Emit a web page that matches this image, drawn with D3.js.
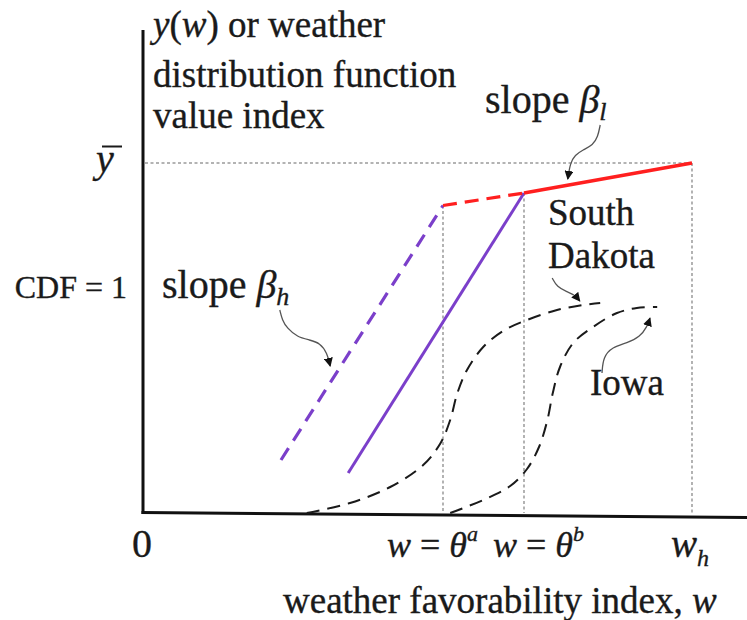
<!DOCTYPE html>
<html>
<head>
<meta charset="utf-8">
<script src="https://cdn.jsdelivr.net/npm/d3@7"></script>
<style>
  html, body { margin: 0; padding: 0; background: #ffffff; }
  svg text { font-family: "Liberation Serif", "Times New Roman", serif; fill: #1a1a1a;
             stroke: #1a1a1a; stroke-width: 0.35; }
</style>
</head>
<body>
<svg id="sketchbook" width="747" height="620"></svg>
<script>
// key points on the w axis / y axis (index units 0..100)
let thetaA = 50;
let thetaB = 63.5;
let wH     = 91.5;
let yBar   = 70;

// value function pieces
let redSolid     = [ { w: thetaB, y: 64 },   { w: wH, y: yBar } ];
let redDashed    = [ { w: thetaA, y: 61.5 }, { w: thetaB, y: 64 } ];
let purpleSolid  = [ { w: 34.2, y: 8 },      { w: thetaB, y: 64 } ];
let purpleDashed = [ { w: 23, y: 10.6 },     { w: thetaA, y: 61.5 } ];

// weather CDFs (CDF = 1 sits at y ~ 43)
let southDakota = [
    { w: 27.3, y: 0 }, { w: 34.5, y: 2 }, { w: 41.2, y: 5.2 }, { w: 46.7, y: 9.6 },
    { w: 49.6, y: 14 }, { w: 51.2, y: 18.6 }, { w: 52.4, y: 24 }, { w: 54, y: 28.6 },
    { w: 56.7, y: 33.2 }, { w: 60, y: 36.4 }, { w: 64, y: 38.6 }, { w: 69, y: 40.6 },
    { w: 73.3, y: 41.6 }, { w: 76.2, y: 42 }
];
let iowa = [
    { w: 51.2, y: 0 }, { w: 56.7, y: 2.6 }, { w: 61.2, y: 5.4 }, { w: 64, y: 8.8 },
    { w: 66, y: 13.2 }, { w: 67.4, y: 18.6 }, { w: 68.3, y: 24 }, { w: 69.5, y: 29.2 },
    { w: 71.7, y: 34 }, { w: 75, y: 37.2 }, { w: 79, y: 40 }, { w: 82.3, y: 41 },
    { w: 85.7, y: 41.2 }
];

// vertical guides drop from the kinks to the axis
let guides = [ { w: thetaA, y: 61.5 }, { w: thetaB, y: 64 }, { w: wH, y: yBar } ];

// curly pointers for the labels
let pointers = [
    [ { w: 76.2, y: 77.6 }, { w: 75.8, y: 75.2 }, { w: 75, y: 73.6 }, { w: 73.3, y: 72.6 },
      { w: 72, y: 71.6 }, { w: 71.2, y: 70 }, { w: 70.8, y: 66.8 } ],
    [ { w: 22.8, y: 40.6 }, { w: 23.2, y: 38.6 }, { w: 24, y: 37 }, { w: 25.7, y: 35.2 },
      { w: 27.8, y: 34.6 }, { w: 29.5, y: 34 }, { w: 30.7, y: 32 }, { w: 31.2, y: 29.4 } ],
    [ { w: 68.2, y: 47 }, { w: 69, y: 45.2 }, { w: 70.7, y: 44.2 }, { w: 72, y: 43.6 },
      { w: 72.8, y: 42.4 } ],
    [ { w: 76.5, y: 28 }, { w: 76.7, y: 31.2 }, { w: 78.2, y: 33.2 }, { w: 80.7, y: 34 },
      { w: 82.8, y: 35.2 }, { w: 84, y: 37.2 }, { w: 84.5, y: 39 } ]
];

let yLabelLines = [ 'or weather', 'distribution function', 'value index' ];
let xLabel = 'weather favorability index, ';

function makeScales () {
    let x = d3.scaleLinear().domain([0, 100]).range([143, 743]);
    let y = d3.scaleLinear().domain([0, 100]).range([513, 13]);
    return { x: x, y: y };
}

function drawAxes (svg, s) {
    svg.append('line')
        .attr('x1', s.x(0)).attr('y1', s.y(96.6))
        .attr('x2', s.x(0)).attr('y2', s.y(0) + 1)
        .attr('stroke', '#111').attr('stroke-width', 3);
    svg.append('line')
        .attr('x1', s.x(0) - 1.5).attr('y1', s.y(0) - 0.5)
        .attr('x2', 747).attr('y2', s.y(0) + 4.5)
        .attr('stroke', '#111').attr('stroke-width', 3);
}

function drawGuides (svg, s) {
    svg.append('line')
        .attr('class', 'guide')
        .attr('x1', s.x(0) + 2).attr('y1', s.y(yBar))
        .attr('x2', s.x(wH)).attr('y2', s.y(yBar))
        .attr('stroke', '#9a9a9a').attr('stroke-width', 1.6)
        .attr('stroke-dasharray', '3,2.5');

    svg.selectAll('line.vguide')
        .data(guides)
        .enter()
        .append('line')
        .attr('class', 'vguide')
        .attr('x1', (d) => { return s.x(d.w); })
        .attr('y1', (d) => { return s.y(d.y); })
        .attr('x2', (d) => { return s.x(d.w); })
        .attr('y2', (d) => { return s.y(0); })
        .attr('stroke', '#8a8a8a').attr('stroke-width', 1.3)
        .attr('stroke-dasharray', '3,2.5');
}

function drawCurves (svg, s) {
    let line = d3.line()
        .x((d) => { return s.x(d.w); })
        .y((d) => { return s.y(d.y); });
    let smooth = d3.line()
        .x((d) => { return s.x(d.w); })
        .y((d) => { return s.y(d.y); })
        .curve(d3.curveCatmullRom);

    let pieces = [
        { data: southDakota, gen: smooth, color: '#1a1a1a', width: 2, dash: '13,8' },
        { data: iowa,        gen: smooth, color: '#1a1a1a', width: 2, dash: '13,8' },
        { data: purpleDashed, gen: line, color: '#7b3fca', width: 3.2, dash: '14,9' },
        { data: purpleSolid,  gen: line, color: '#7b3fca', width: 3, dash: null },
        { data: redDashed,    gen: line, color: '#ff1f1f', width: 3.2, dash: '14,8' },
        { data: redSolid,     gen: line, color: '#ff1f1f', width: 3.4, dash: null }
    ];

    svg.selectAll('path.curve')
        .data(pieces)
        .enter()
        .append('path')
        .attr('class', 'curve')
        .attr('d', (d) => { return d.gen(d.data); })
        .attr('fill', 'none')
        .attr('stroke', (d) => { return d.color; })
        .attr('stroke-width', (d) => { return d.width; })
        .attr('stroke-dasharray', (d) => { return d.dash; });
}

function drawPointers (svg, s) {
    svg.append('defs').append('marker')
        .attr('id', 'tip')
        .attr('viewBox', '0 0 10 10')
        .attr('refX', 9).attr('refY', 5)
        .attr('markerWidth', 9).attr('markerHeight', 9)
        .attr('markerUnits', 'userSpaceOnUse')
        .attr('orient', 'auto')
        .append('path')
        .attr('d', 'M0,0 L10,5 L0,10 z')
        .attr('fill', '#111');

    let smooth = d3.line()
        .x((d) => { return s.x(d.w); })
        .y((d) => { return s.y(d.y); })
        .curve(d3.curveBasis);

    svg.selectAll('path.pointer')
        .data(pointers)
        .enter()
        .append('path')
        .attr('class', 'pointer')
        .attr('d', (d) => { return smooth(d); })
        .attr('fill', 'none')
        .attr('stroke', '#555')
        .attr('stroke-width', 1.3)
        .attr('marker-end', 'url(#tip)');
}

function drawLabels (svg, s) {
    // y axis title
    let yt = svg.append('text').attr('x', 153).attr('y', 37).attr('font-size', 37);
    yt.append('tspan').attr('font-style', 'italic').text('y');
    yt.append('tspan').text('(');
    yt.append('tspan').attr('font-style', 'italic').text('w');
    yt.append('tspan').text(') ' + yLabelLines[0]);
    svg.selectAll('text.ytitle')
        .data(yLabelLines.slice(1))
        .enter()
        .append('text')
        .attr('class', 'ytitle')
        .attr('x', 153)
        .attr('y', (d, i) => { return 87 + i * 41; })
        .attr('font-size', 37)
        .text((d) => { return d; });

    // y bar
    svg.append('text')
        .attr('x', 96).attr('y', s.y(yBar) + 9)
        .attr('font-size', 40).attr('font-style', 'italic')
        .text('y');
    svg.append('line')
        .attr('x1', 102).attr('y1', 146.5).attr('x2', 122).attr('y2', 146.5)
        .attr('stroke', '#1a1a1a').attr('stroke-width', 2);

    svg.append('text')
        .attr('x', 127).attr('y', 298)
        .attr('text-anchor', 'end')
        .attr('font-size', 32)
        .text('CDF = 1');

    // slope labels
    let slopes = [ { x: 162, y: 298, sub: 'h' }, { x: 485, y: 113, sub: 'l' } ];
    slopes.forEach((d) => {
        let t = svg.append('text').attr('x', d.x).attr('y', d.y).attr('font-size', 40);
        t.append('tspan').text('slope ');
        t.append('tspan').attr('font-style', 'italic').text('\u03B2');
        t.append('tspan').attr('font-style', 'italic').attr('font-size', 26)
            .attr('dy', 7).text(d.sub);
    });

    // state names
    let states = [
        { x: 548, y: 225, text: 'South' },
        { x: 548, y: 268, text: 'Dakota' },
        { x: 590, y: 395, text: 'Iowa' }
    ];
    svg.selectAll('text.state')
        .data(states)
        .enter()
        .append('text')
        .attr('class', 'state')
        .attr('x', (d) => { return d.x; })
        .attr('y', (d) => { return d.y; })
        .attr('font-size', 37)
        .text((d) => { return d.text; });

    // x tick labels
    svg.append('text')
        .attr('x', 132).attr('y', 557).attr('font-size', 40).text('0');

    let thetas = [ { x: 387, sup: 'a' }, { x: 493, sup: 'b' } ];
    thetas.forEach((d) => {
        let t = svg.append('text').attr('x', d.x).attr('y', 557).attr('font-size', 36);
        t.append('tspan').attr('font-style', 'italic').text('w');
        t.append('tspan').text(' = ');
        t.append('tspan').attr('font-style', 'italic').text('\u03B8');
        t.append('tspan').attr('font-style', 'italic').attr('font-size', 22)
            .attr('dy', -16).text(d.sup);
    });

    let wh = svg.append('text').attr('x', 671).attr('y', 557).attr('font-size', 39);
    wh.append('tspan').attr('font-style', 'italic').text('w');
    wh.append('tspan').attr('font-style', 'italic').attr('font-size', 24)
        .attr('dy', 9).text('h');

    // x axis title
    let xt = svg.append('text').attr('x', 283).attr('y', 613).attr('font-size', 37);
    xt.append('tspan').text(xLabel);
    xt.append('tspan').attr('font-style', 'italic').text('w');
}

function makeChart () {
    let svg = d3.select('#sketchbook');
    let s = makeScales();

    drawGuides(svg, s);
    drawAxes(svg, s);
    drawCurves(svg, s);
    drawPointers(svg, s);
    drawLabels(svg, s);
}

makeChart();
</script>
</body>
</html>
